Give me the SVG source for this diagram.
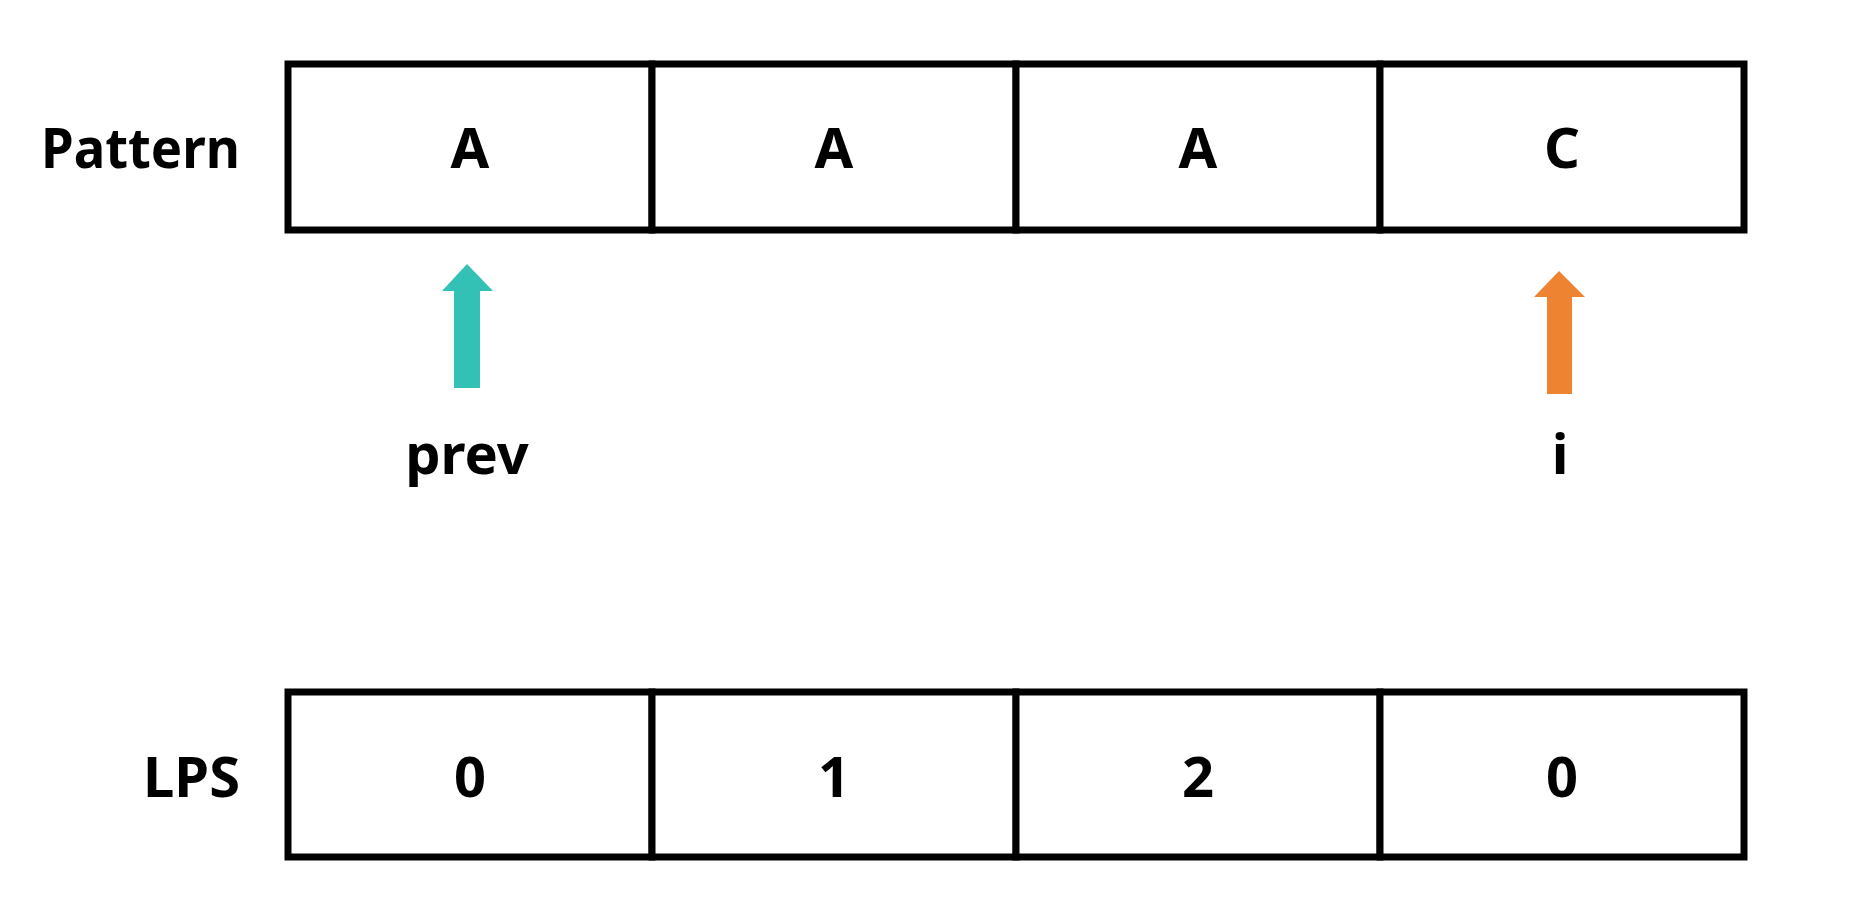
<svg xmlns="http://www.w3.org/2000/svg" width="1872" height="900" viewBox="0 0 1872 900">
<style>
.cell{fill:#fff;stroke:#000;stroke-width:7}
.t{font-family:"Noto Sans","Open Sans",sans-serif;font-weight:bold;font-size:56px;fill:#000;text-anchor:middle}
.lbl{font-family:"Noto Sans","Open Sans",sans-serif;font-weight:bold;font-size:56px;fill:#000;text-anchor:end}
</style>
<rect width="1872" height="900" fill="#fff"/>
<g id="pattern-label"><text class="lbl" x="240" y="168" textLength="199" lengthAdjust="spacingAndGlyphs">Pattern</text></g>
<g id="pattern-row">
<rect class="cell" x="288" y="64" width="364" height="166"/>
<rect class="cell" x="652" y="64" width="364" height="166"/>
<rect class="cell" x="1016" y="64" width="364" height="166"/>
<rect class="cell" x="1380" y="64" width="364" height="166"/>
<text class="t" x="470" y="168">A</text>
<text class="t" x="834" y="168">A</text>
<text class="t" x="1198" y="168">A</text>
<text class="t" x="1562" y="168">C</text>
</g>
<g id="prev-pointer">
<polygon fill="#33C1B5" points="467,264 493,291 480,291 480,388 454,388 454,291 442,291"/>
<text class="t" x="467" y="474">prev</text>
</g>
<g id="i-pointer">
<polygon fill="#EE8431" points="1559,271 1585,297 1572,297 1572,394 1547,394 1547,297 1534,297"/>
<text class="t" x="1560" y="474">i</text>
</g>
<g id="lps-label"><text class="lbl" x="240" y="797">LPS</text></g>
<g id="lps-row">
<rect class="cell" x="288" y="692" width="364" height="165"/>
<rect class="cell" x="652" y="692" width="364" height="165"/>
<rect class="cell" x="1016" y="692" width="364" height="165"/>
<rect class="cell" x="1380" y="692" width="364" height="165"/>
<text class="t" x="470" y="797">0</text>
<text class="t" x="834" y="797">1</text>
<text class="t" x="1198" y="797">2</text>
<text class="t" x="1562" y="797">0</text>
</g>
<g id="connectors"></g>
</svg>
